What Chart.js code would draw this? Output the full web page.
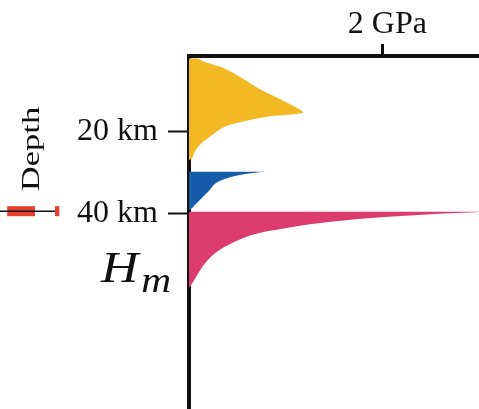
<!DOCTYPE html>
<html>
<head>
<meta charset="utf-8">
<script src="https://cdn.jsdelivr.net/npm/chart.js@4.4.0/dist/chart.umd.min.js"></script>
<style>
  html, body { margin: 0; padding: 0; background: #fff; }
  #wrap { width: 479px; height: 409px; }
</style>
</head>
<body>
<div id="wrap"><canvas id="stressChart" width="479" height="409"></canvas></div>
<script>
/* ---------- Data ---------- */
// depth axis (km, increasing downwards)
const depthTicks = [20, 40];
const depthTickLabels = ["20 km", "40 km"];
// pressure axis (GPa)
const pressTicks = [2];
const pressTickLabels = ["2 GPa"];

// upper crust (yellow)
const upperDepth = [2.0, 3.0, 4.5, 6.9, 9.8, 12.6, 15.2, 15.7, 16.3, 17.4, 18.8, 20.8, 22.8, 24.9, 26.5, 27.0];
const upperPress = [0.09, 0.17, 0.37, 0.55, 0.75, 0.99, 1.18, 1.10, 0.82, 0.58, 0.37, 0.24, 0.13, 0.06, 0.03, 0];
// lower crust (blue)
const lowerDepth = [29.75, 30.4, 31.6, 32.8, 34.7, 36.3, 38.0, 38.8, 39.2];
const lowerPress = [0.80, 0.58, 0.37, 0.27, 0.20, 0.13, 0.06, 0.03, 0];
// mantle (pink)
const mantleDepth = [39.56, 39.85, 40.42, 41.23, 42.45, 43.68, 45.32, 47.77, 49.8, 52.25, 54.7, 56.76, 58.0, 58.3];
const mantlePress = [3.1, 2.89, 2.37, 1.855, 1.337, 0.995, 0.65, 0.407, 0.269, 0.166, 0.096, 0.045, 0.01, 0];

// Moho depth estimate shown in the neighbouring panel (left scale units)
const mohoDepth = 39.5;
const mohoWhisker = [-7, -4.62];
const mohoBox = [-6.27, -5.31];
const mohoCap = [-4.62, -4.47];

/* ---------- Helpers ---------- */
function zipPoints(xs, ys) { return xs.map((x, i) => ({ x: x, y: ys[i] })); }
function flatAt(xs, y) { return xs.map(x => ({ x: x, y: y })); }

const serif = "'Liberation Serif', 'Times New Roman', serif";

function areaSet(press, depth, color) {
  return {
    data: zipPoints(press, depth),
    backgroundColor: color,
    borderWidth: 0,
    pointRadius: 0,
    fill: "origin",
    tension: 0.35
  };
}

function mohoSet(xs, color, width) {
  return {
    data: flatAt(xs, mohoDepth),
    xAxisID: "xL",
    borderColor: color,
    borderWidth: width,
    pointRadius: 0,
    fill: false,
    clip: false
  };
}

// keep chart area flush with the canvas edges
function noPad(s) {
  s.paddingTop = 0; s.paddingBottom = 0;
  s.paddingLeft = 0; s.paddingRight = 0;
}

/* ---------- Annotation text ---------- */
const labelsPlugin = {
  id: "sideLabels",
  afterDraw(chart) {
    const ctx = chart.ctx;
    ctx.save();
    ctx.fillStyle = "#111";
    // rotated "Depth"
    ctx.translate(38.5, 149);
    ctx.rotate(-Math.PI / 2);
    ctx.scale(1.38, 1);
    ctx.font = "25px " + serif;
    ctx.textAlign = "center";
    ctx.textBaseline = "alphabetic";
    ctx.fillText("Depth", 0, 0);
    ctx.restore();

    ctx.save();
    ctx.fillStyle = "#111";
    ctx.textAlign = "left";
    ctx.textBaseline = "alphabetic";
    ctx.translate(101, 282);
    ctx.scale(1.15, 1);
    ctx.font = "italic 45px " + serif;
    ctx.fillText("H", 0, 0);
    ctx.font = "italic 36px " + serif;
    ctx.fillText("m", 35, 10);
    ctx.restore();
  }
};

/* ---------- Chart ---------- */
const ctx = document.getElementById("stressChart").getContext("2d");
new Chart(ctx, {
  type: "line",
  data: {
    datasets: [
      areaSet(upperPress, upperDepth, "#F2B924"),
      areaSet(lowerPress, lowerDepth, "#165CAA"),
      areaSet(mantlePress, mantleDepth, "#DC3B6E"),
      mohoSet(mohoWhisker, "#111", 1.5),
      mohoSet(mohoBox, "#E8402F", 10),
      mohoSet(mohoCap, "#E8402F", 10)
    ]
  },
  options: {
    indexAxis: "y",
    responsive: false,
    animation: false,
    events: [],
    layout: { padding: 0 },
    plugins: { legend: { display: false }, tooltip: { enabled: false } },
    scales: {
      x: {
        type: "linear",
        position: "top",
        min: 0,
        max: 3.0,
        afterFit: s => { s.height = 56; noPad(s); },
        afterBuildTicks: s => { s.ticks = pressTicks.map(v => ({ value: v })); },
        ticks: {
          padding: 0,
          labelOffset: 5,
          color: "#111",
          font: { family: serif, size: 32 },
          callback: (v, i) => pressTickLabels[i]
        },
        grid: { drawOnChartArea: false, tickLength: 12, tickWidth: 3, color: "#111" },
        border: { display: true, width: 4, color: "#111" }
      },
      xL: {
        type: "linear",
        display: false,
        min: 0,
        max: 10
      },
      y: {
        type: "linear",
        position: "left",
        reverse: true,
        min: 1.45,
        max: 88,
        afterFit: s => { s.width = 189; noPad(s); },
        afterBuildTicks: s => { s.ticks = depthTicks.map(v => ({ value: v })); },
        ticks: {
          padding: 10,
          color: "#111",
          font: { family: serif, size: 32 },
          callback: (v, i) => depthTickLabels[i]
        },
        grid: { drawOnChartArea: false, tickLength: 21, tickWidth: 2, color: "#111" },
        border: { display: true, width: 4, color: "#111" }
      }
    }
  },
  plugins: [labelsPlugin]
});
</script>
</body>
</html>
